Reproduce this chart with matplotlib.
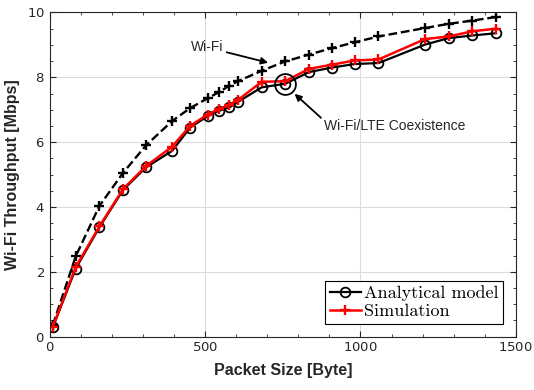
import numpy as np
import matplotlib
matplotlib.use('Agg')
from matplotlib import pyplot as plt
from matplotlib.ticker import MultipleLocator

plt.rcParams['axes.formatter.use_mathtext'] = True
plt.rcParams['mathtext.fontset'] = 'cm'

packet_size = [10, 84, 160, 236, 310, 394, 452, 508, 546, 578, 606, 682,
               758, 834, 908, 982, 1058, 1208, 1284, 1360, 1436]
wifi = [0.35, 2.48, 4.03, 5.05, 5.9, 6.65, 7.05, 7.35, 7.55, 7.74, 7.88, 8.2,
        8.49, 8.7, 8.9, 9.08, 9.26, 9.52, 9.65, 9.75, 9.86]
analytical = [0.28, 2.1, 3.37, 4.52, 5.22, 5.73, 6.45, 6.8, 6.97, 7.07, 7.24, 7.69,
              7.8, 8.16, 8.3, 8.41, 8.44, 9.01, 9.21, 9.29, 9.36]
simulation = [0.3, 2.15, 3.4, 4.55, 5.26, 5.86, 6.5, 6.85, 7.02, 7.15, 7.3, 7.86,
              7.88, 8.26, 8.39, 8.52, 8.55, 9.18, 9.26, 9.42, 9.5]

fig = plt.figure(figsize=(5.34, 3.9), dpi=100)
ax = fig.add_axes([0.093, 0.137, 0.873, 0.831])

ax.plot(packet_size, wifi, '--', color='black', lw=1.7, marker='+', ms=7.5, mew=1.7)
ax.plot(packet_size, analytical, '-', color='black', lw=1.6, marker='o', ms=7,
        mfc='none', mew=1.3, label='Analytical model')
ax.plot(packet_size, simulation, '-', color='red', lw=1.8, marker='+', ms=7.5,
        mew=1.7, label='Simulation')

# big circle around the coexistence point
ax.plot([packet_size[12]], [analytical[12]], 'o', ms=15, mfc='none', mec='black', mew=1.3)

ax.annotate('Wi-Fi', xy=(703, 8.45), xytext=(456, 8.92), fontsize=10,
            fontfamily='Liberation Sans', va='center', ha='left', color='#262626',
            arrowprops=dict(arrowstyle='-|>', color='black', lw=1.3,
                            shrinkA=0, shrinkB=0, mutation_scale=10))
ax.annotate('Wi-Fi/LTE Coexistence', xy=(788, 7.49), xytext=(882, 6.5), fontsize=10,
            fontfamily='Liberation Sans', va='center', ha='left', color='#262626',
            arrowprops=dict(arrowstyle='-|>', color='black', lw=1.3,
                            shrinkA=0, shrinkB=0, mutation_scale=10,
                            relpos=(0, 0.9)))

ax.set_xlim(0, 1500)
ax.set_ylim(0, 10)
ax.xaxis.set_major_locator(MultipleLocator(500))
ax.xaxis.set_minor_locator(MultipleLocator(100))
ax.yaxis.set_major_locator(MultipleLocator(2))
ax.yaxis.set_minor_locator(MultipleLocator(0.5))
ax.tick_params(which='both', direction='in', top=True, right=True, color='#262626')
ax.tick_params(which='major', length=4, labelsize=9.5, labelcolor='#262626')
ax.tick_params(which='minor', length=2)
for s in ax.spines.values():
    s.set_color('#262626')
    s.set_linewidth(0.8)
ax.grid(True, which='major', color='#dcdcdc', lw=0.8)
ax.set_axisbelow(True)

ax.set_xlabel('Packet Size [Byte]', fontsize=11.5, fontweight='bold',
              fontfamily='Liberation Sans', color='#262626', labelpad=6)
ax.set_ylabel('Wi-Fi Throughput [Mbps]', fontsize=11.5, fontweight='bold',
              fontfamily='Liberation Sans', color='#262626', labelpad=5)

leg = ax.legend(loc='lower right', prop={'family': 'cmr10', 'size': 13},
                fancybox=False, edgecolor='black', framealpha=1,
                handlelength=1.7, handletextpad=0.2, borderpad=0.25,
                labelspacing=0.15, borderaxespad=0.7)
leg.get_frame().set_linewidth(0.8)

fig.savefig('out.png', dpi=100)
